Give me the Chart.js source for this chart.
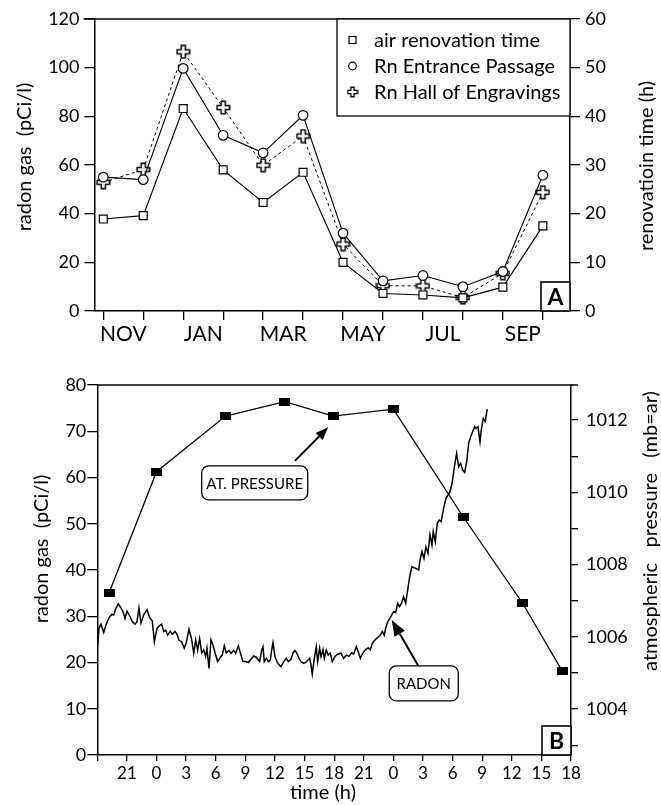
<!DOCTYPE html>
<html>
<head>
<meta charset="utf-8">
<script src="https://cdn.jsdelivr.net/npm/chart.js@4.4.0/dist/chart.umd.min.js"></script>
<style>
  html, body { margin: 0; padding: 0; background: #fff; }
  #wrap { position: relative; width: 661px; height: 805px; }
  #chartA { position: absolute; left: 0; top: 0; }
  #chartB { position: absolute; left: 0; top: 345px; }
</style>
</head>
<body>
<div id="wrap">
  <canvas id="chartA" width="661" height="345"></canvas>
  <canvas id="chartB" width="661" height="460"></canvas>
</div>
<script>
// ---- panel A : monthly values ----
const months = ["NOV", "DEC", "JAN", "FEB", "MAR", "APR", "MAY", "JUN", "JUL", "AUG", "SEP", "OCT"];
const airRenovation = [18.9, 19.6, 41.6, 29.0, 22.3, 28.5, 10.0, 3.6, 3.3, 2.7, 4.9, 17.5]; // h, right axis
const rnEntrance = [55.0, 54.0, 99.7, 72.2, 65.0, 80.4, 32.0, 12.4, 14.6, 10.0, 16.2, 55.8];  // pCi/l
const rnHall = [52.9, 58.1, 106.5, 83.6, 59.9, 71.9, 27.5, 10.4, 10.3, 5.5, 15.5, 48.8];      // pCi/l

// ---- panel B : hourly record (hours counted from midnight of day 1) ----
const timeTicks = [18, 21, 24, 27, 30, 33, 36, 39, 42, 45, 48, 51, 54, 57, 60, 63, 66];
const pressureTicks = [1003, 1004, 1005, 1006, 1007, 1008, 1009, 1010, 1011, 1012];
const pressureTime = [19.2, 24.0, 31.0, 37.0, 41.9, 48.0, 55.1, 61.1, 65.1];
const pressureValue = [1007.22, 1010.57, 1012.11, 1012.51, 1012.11, 1012.30, 1009.31, 1006.93, 1005.06];

const radonTime = [
  18.04, 18.17, 18.37, 18.65, 18.91, 19.19, 19.46, 19.66, 19.86, 20.13,
  20.40, 20.60, 20.81, 21.01, 21.28, 21.55, 21.82, 22.02, 22.22, 22.43,
  22.70, 23.04, 23.31, 23.57, 23.78, 24.05, 24.32, 24.52, 24.73, 24.93,
  25.13, 25.40, 25.60, 25.87, 26.08, 26.28,
  26.55, 26.81, 27.02, 27.29, 27.56, 27.77, 27.97, 28.17, 28.37, 28.58,
  28.78, 28.98, 29.11, 29.32, 29.52, 29.72, 29.93, 30.20, 30.46, 30.66,
  30.87, 31.07, 31.34, 31.55, 31.82, 32.02, 32.29, 32.56, 32.76, 33.04,
  33.30, 33.57, 33.85, 34.11,
  34.45, 34.66, 34.79, 34.92, 35.12, 35.33, 35.53, 35.67, 35.80, 36.00,
  36.21, 36.41, 36.61, 36.89, 37.15, 37.35, 37.63, 37.83, 38.03, 38.23,
  38.44, 38.64, 38.91, 39.11, 39.32, 39.52, 39.65, 39.78, 39.99, 40.19,
  40.33, 40.53, 40.67, 40.87, 41.00, 41.20, 41.40, 41.61, 41.81, 42.08,
  42.36,
  42.69, 42.96, 43.23, 43.50, 43.78, 43.98, 44.24, 44.44, 44.65, 44.92,
  45.19, 45.46, 45.66, 45.86, 46.14, 46.41, 46.67, 46.88, 47.08, 47.22,
  47.42, 47.63, 47.83, 48.03, 48.23, 48.44, 48.64, 48.84, 49.04, 49.25,
  49.45,
  49.68, 49.88, 50.22, 50.56, 50.70, 50.90, 51.10, 51.30, 51.51, 51.71,
  51.91, 52.04, 52.25, 52.45, 52.65, 52.85, 53.06, 53.33, 53.53, 53.73,
  53.94, 54.07, 54.21, 54.41, 54.62, 54.82, 55.02, 55.22, 55.43, 55.63,
  55.83, 56.03, 56.24, 56.37, 56.57, 56.78, 56.91, 57.11, 57.31, 57.51
];
const radonValue = [
  23.8, 27.4, 28.3, 26.5, 28.3, 29.7, 30.4, 30.3, 31.6, 32.7,
  31.8, 31.0, 29.5, 31.1, 30.1, 28.8, 28.3, 28.8, 31.8, 28.5,
  30.3, 31.4, 29.7, 29.0, 24.5, 27.4, 28.0, 28.3, 26.7, 27.0,
  25.9, 26.8, 26.1, 26.7, 26.1, 24.8,
  24.5, 23.1, 24.3, 27.2, 25.0, 22.0, 24.9, 22.7, 25.2, 22.1,
  22.7, 21.3, 23.1, 18.7, 24.9, 23.8, 22.1, 20.2, 21.1, 21.6,
  23.6, 22.1, 22.6, 22.0, 22.6, 22.0, 23.6, 21.6, 20.2, 20.2,
  20.0, 20.7, 21.4, 21.1,
  20.2, 22.7, 23.4, 20.2, 20.9, 20.2, 20.5, 22.7, 24.3, 21.3,
  20.2, 19.5, 19.1, 20.2, 20.9, 20.2, 20.7, 22.1, 22.6, 22.0,
  20.9, 20.2, 19.8, 20.0, 20.5, 20.9, 19.5, 17.5, 20.9, 23.4,
  20.2, 23.1, 21.3, 22.8, 20.9, 22.7, 21.6, 22.0, 20.2, 21.3,
  21.8,
  22.0, 20.9, 21.6, 21.3, 22.1, 21.8, 23.4, 22.3, 20.9, 22.1,
  22.8, 23.2, 22.7, 24.1, 24.9, 25.4, 25.9, 26.7, 25.9, 27.4,
  28.8, 29.5, 30.3, 31.0, 30.8, 32.8, 32.1, 32.9, 34.2, 32.8,
  35.7,
  38.9, 40.7, 40.4, 40.0, 42.2, 44.0, 42.5, 45.0, 43.6, 47.6,
  45.4, 48.3, 46.1, 50.1, 50.8, 50.5, 53.0, 55.5, 56.2, 56.9,
  58.7, 60.5, 62.7, 65.2, 62.3, 63.1, 61.6, 61.1, 63.4, 67.4,
  68.8, 69.9, 71.0, 70.6, 71.0, 67.7, 70.3, 72.8, 72.1, 74.8
];

const ink = "#000";
const fontFamily = 'Lato, "Open Sans", "DejaVu Sans", sans-serif';
Chart.defaults.font.family = fontFamily;
Chart.defaults.color = ink;
Chart.defaults.animation = false;

// hollow greek cross marker
function makeCross(size, lw) {
  const c = document.createElement("canvas");
  c.width = size; c.height = size;
  const g = c.getContext("2d");
  const o = lw / 2 + 0.5, s = size - lw - 1, a = s / 3;
  g.beginPath();
  g.moveTo(o + a, o); g.lineTo(o + 2 * a, o); g.lineTo(o + 2 * a, o + a);
  g.lineTo(o + s, o + a); g.lineTo(o + s, o + 2 * a); g.lineTo(o + 2 * a, o + 2 * a);
  g.lineTo(o + 2 * a, o + s); g.lineTo(o + a, o + s); g.lineTo(o + a, o + 2 * a);
  g.lineTo(o, o + 2 * a); g.lineTo(o, o + a); g.lineTo(o + a, o + a);
  g.closePath();
  g.fillStyle = "#fff"; g.fill();
  g.lineWidth = lw; g.strokeStyle = ink; g.stroke();
  return c;
}
// filled flat rectangle marker for the pressure series
function makeBlock(w, h) {
  const c = document.createElement("canvas");
  c.width = w; c.height = h;
  const g = c.getContext("2d");
  g.fillStyle = ink; g.fillRect(0, 0, w, h);
  return c;
}
const crossImg = makeCross(15, 1.5);
const crossLegend = makeCross(12, 1.4);
const blockImg = makeBlock(11, 8);

function vText(ctx, text, x, y, size) {
  ctx.save();
  ctx.translate(x, y);
  ctx.rotate(-Math.PI / 2);
  ctx.font = size + "px " + fontFamily;
  ctx.fillStyle = ink;
  ctx.textAlign = "center";
  ctx.textBaseline = "middle";
  ctx.fillText(text, 0, 0);
  ctx.restore();
}
function roundBox(ctx, x, y, w, h, r) {
  ctx.beginPath();
  ctx.moveTo(x + r, y);
  ctx.lineTo(x + w - r, y); ctx.arcTo(x + w, y, x + w, y + r, r);
  ctx.lineTo(x + w, y + h - r); ctx.arcTo(x + w, y + h, x + w - r, y + h, r);
  ctx.lineTo(x + r, y + h); ctx.arcTo(x, y + h, x, y + h - r, r);
  ctx.lineTo(x, y + r); ctx.arcTo(x, y, x + r, y, r);
  ctx.closePath();
}
function arrow(ctx, x1, y1, x2, y2, len, wid) {
  const ang = Math.atan2(y2 - y1, x2 - x1);
  const bx = x2 - len * Math.cos(ang), by = y2 - len * Math.sin(ang);
  ctx.beginPath();
  ctx.moveTo(x1, y1); ctx.lineTo(bx, by);
  ctx.lineWidth = 2; ctx.strokeStyle = ink; ctx.stroke();
  ctx.beginPath();
  ctx.moveTo(x2, y2);
  ctx.lineTo(bx + wid / 2 * Math.sin(ang), by - wid / 2 * Math.cos(ang));
  ctx.lineTo(bx - wid / 2 * Math.sin(ang), by + wid / 2 * Math.cos(ang));
  ctx.closePath();
  ctx.fillStyle = ink; ctx.fill();
}
function letterBox(ctx, ca, letter) {
  const s = 29;
  ctx.lineWidth = 1.6; ctx.strokeStyle = ink;
  ctx.fillStyle = "#fff";
  ctx.fillRect(ca.right - s, ca.bottom - s, s, s);
  ctx.strokeRect(ca.right - s, ca.bottom - s, s, s);
  ctx.font = "bold 23px " + fontFamily;
  ctx.fillStyle = ink; ctx.textAlign = "center"; ctx.textBaseline = "middle";
  ctx.fillText(letter, ca.right - s / 2, ca.bottom - s / 2 + 1);
}

const panelA = {
  id: "panelA",
  afterDraw(chart) {
    const ctx = chart.ctx, ca = chart.chartArea;
    ctx.save();
    // top frame line
    ctx.beginPath();
    ctx.moveTo(ca.left - 11, ca.top); ctx.lineTo(ca.right, ca.top);
    ctx.lineWidth = 1.5; ctx.strokeStyle = ink; ctx.stroke();

    // legend
    const lx = 337, ly = ca.top, lw = ca.right - lx, lh = 97;
    ctx.fillStyle = "#fff"; ctx.fillRect(lx, ly, lw, lh);
    ctx.lineWidth = 1.3; ctx.strokeRect(lx, ly, lw, lh);
    const rows = [ly + 21, ly + 47, ly + 73];
    const names = chart.data.datasets.map(d => d.label);
    ctx.lineWidth = 1.2;
    ctx.strokeRect(349, rows[0] - 3.5, 7, 7);
    ctx.beginPath(); ctx.arc(352.5, rows[1], 3.8, 0, Math.PI * 2); ctx.stroke();
    ctx.drawImage(crossLegend, 352.5 - 6, rows[2] - 6);
    ctx.font = "20px " + fontFamily;
    ctx.fillStyle = ink; ctx.textAlign = "left"; ctx.textBaseline = "middle";
    names.forEach((n, i) => ctx.fillText(n, 374, rows[i] + 1));

    letterBox(ctx, ca, "A");
    vText(ctx, "radon gas  (pCi/l)", 25, 157, 20);
    vText(ctx, "renovatioin time (h)", 647, 166, 20);
    ctx.restore();
  }
};

const panelB = {
  id: "panelB",
  afterDraw(chart) {
    const ctx = chart.ctx, ca = chart.chartArea;
    const xs = chart.scales.x, ys = chart.scales.y, yp = chart.scales.y2;
    ctx.save();
    ctx.beginPath();
    ctx.moveTo(ca.left, ca.top); ctx.lineTo(ca.right + 7, ca.top);
    ctx.lineWidth = 1.5; ctx.strokeStyle = ink; ctx.stroke();

    letterBox(ctx, ca, "B");

    // AT. PRESSURE label
    const px = xs.getPixelForValue(33.95), py = yp.getPixelForValue(1010.26);
    ctx.fillStyle = "#fff";
    roundBox(ctx, px - 53, py - 17, 106, 34, 7);
    ctx.fill(); ctx.lineWidth = 1.3; ctx.strokeStyle = ink; ctx.stroke();
    ctx.font = "15px " + fontFamily; ctx.fillStyle = ink;
    ctx.textAlign = "center"; ctx.textBaseline = "middle";
    ctx.fillText("AT. PRESSURE", px, py + 1);
    arrow(ctx, xs.getPixelForValue(38.03), yp.getPixelForValue(1010.87),
      xs.getPixelForValue(41.4), yp.getPixelForValue(1011.8), 13, 10);

    // RADON label
    const rx = xs.getPixelForValue(51.08), ry = ys.getPixelForValue(15.48);
    ctx.fillStyle = "#fff";
    roundBox(ctx, rx - 34.5, ry - 17.5, 69, 35, 7);
    ctx.fill(); ctx.lineWidth = 1.3; ctx.stroke();
    ctx.fillStyle = ink;
    ctx.fillText("RADON", rx, ry + 1);
    arrow(ctx, xs.getPixelForValue(50.52), ys.getPixelForValue(19.3),
      xs.getPixelForValue(47.83), ys.getPixelForValue(29.2), 16, 12);

    vText(ctx, "radon gas  (pCi/l)", 42, 204, 20);
    vText(ctx, "atmospheric   pressure   (mb=ar)", 651, 186, 20);
    ctx.font = "20px " + fontFamily; ctx.fillStyle = ink;
    ctx.textAlign = "center"; ctx.textBaseline = "middle";
    ctx.fillText("time (h)", 323, 448);
    ctx.restore();
  }
};

const axisGrid = (len) => ({ drawOnChartArea: false, color: ink, tickLength: len, lineWidth: 1.3 });
const axisBorder = { display: true, color: ink, width: 1.5 };

new Chart(document.getElementById("chartA"), {
  type: "line",
  data: {
    datasets: [
      {
        label: "air renovation time", yAxisID: "y2",
        data: airRenovation.map((v, i) => ({ x: i, y: v })),
        borderColor: ink, borderWidth: 1.1, tension: 0,
        pointStyle: "rect", pointRadius: 5.6, pointBackgroundColor: "#fff",
        pointBorderColor: ink, pointBorderWidth: 1.2
      },
      {
        label: "Rn Entrance Passage", yAxisID: "y",
        data: rnEntrance.map((v, i) => ({ x: i, y: v })),
        borderColor: ink, borderWidth: 1.1, tension: 0,
        pointStyle: "circle", pointRadius: 4.8, pointBackgroundColor: "#fff",
        pointBorderColor: ink, pointBorderWidth: 1.2
      },
      {
        label: "Rn Hall of Engravings", yAxisID: "y",
        data: rnHall.map((v, i) => ({ x: i, y: v })),
        borderColor: ink, borderWidth: 1, borderDash: [3, 3], tension: 0,
        pointStyle: crossImg, pointRadius: 7
      }
    ]
  },
  options: {
    responsive: false,
    animation: false,
    layout: { padding: { top: 19, left: 0, right: 0, bottom: 0 } },
    plugins: { legend: { display: false }, tooltip: { enabled: false } },
    scales: {
      x: {
        type: "linear", min: -0.22, max: 11.68,
        afterBuildTicks: s => { s.ticks = months.map((m, i) => ({ value: i })); },
        afterFit: s => { s.height = 34; },
        grid: axisGrid(9), border: axisBorder,
        ticks: {
          autoSkip: false, maxRotation: 0, labelOffset: 20, padding: 2,
          font: { size: 21 },
          callback: v => (v % 2 === 0 ? months[v] : "")
        }
      },
      y: {
        position: "left", min: 0, max: 120,
        afterFit: s => { s.width = 94.5; },
        grid: axisGrid(10), border: axisBorder,
        ticks: { stepSize: 20, padding: 5, font: { size: 18 } }
      },
      y2: {
        position: "right", min: 0, max: 60,
        afterFit: s => { s.width = 91; },
        grid: axisGrid(10), border: axisBorder,
        ticks: { stepSize: 10, padding: 5, font: { size: 18 } }
      }
    }
  },
  plugins: [panelA]
});

new Chart(document.getElementById("chartB"), {
  type: "line",
  data: {
    datasets: [
      {
        label: "AT. PRESSURE", yAxisID: "y2",
        data: pressureTime.map((t, i) => ({ x: t, y: pressureValue[i] })),
        borderColor: ink, borderWidth: 1.3, tension: 0,
        pointStyle: blockImg, pointRadius: 6
      },
      {
        label: "RADON", yAxisID: "y",
        data: radonTime.map((t, i) => ({ x: t, y: radonValue[i] })),
        borderColor: ink, borderWidth: 1.5, tension: 0, pointRadius: 0
      }
    ]
  },
  options: {
    responsive: false,
    animation: false,
    layout: { padding: { top: 40, left: 0, right: 0, bottom: 0 } },
    plugins: { legend: { display: false }, tooltip: { enabled: false } },
    scales: {
      x: {
        type: "linear", min: 18, max: 66,
        afterBuildTicks: s => { s.ticks = timeTicks.map(v => ({ value: v })); },
        afterFit: s => { s.height = 50; },
        grid: axisGrid(6), border: axisBorder,
        ticks: {
          autoSkip: false, maxRotation: 0, padding: 2, font: { size: 17 },
          callback: v => (v === timeTicks[0] ? "" : String(v % 24))
        }
      },
      y: {
        position: "left", min: 0, max: 80,
        afterFit: s => { s.width = 97.3; },
        grid: axisGrid(10), border: axisBorder,
        ticks: { stepSize: 10, padding: 1, font: { size: 18 } }
      },
      y2: {
        position: "right", min: 1002.73, max: 1012.97,
        afterBuildTicks: s => { s.ticks = pressureTicks.map(v => ({ value: v })); },
        afterFit: s => { s.width = 90; },
        grid: axisGrid(7), border: axisBorder,
        ticks: {
          autoSkip: false, padding: 8, font: { size: 18 },
          callback: v => (v % 2 === 0 ? String(v) : "")
        }
      }
    }
  },
  plugins: [panelB]
});
</script>
</body>
</html>
